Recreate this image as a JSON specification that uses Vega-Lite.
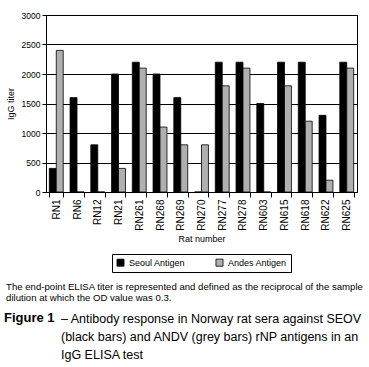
{
  "$schema": "https://vega.github.io/schema/vega-lite/v6.json",
  "padding": {"left": 4, "top": 10, "right": 2, "bottom": 2},
  "background": "white",
  "config": {
    "font": "Liberation Sans",
    "view": {"stroke": null},
    "legend": {"layout": {"bottom": {"anchor": "middle"}}}
  },
  "resolve": {"legend": {"fill": "independent"}, "scale": {"fill": "independent"}},
  "spacing": 9,
  "vconcat": [
    {
      "width": 311,
      "height": 177,
      "view": {"stroke": "black", "strokeWidth": 1},
      "title": {
        "text": ["The end-point ELISA titer is represented and defined as the reciprocal of the sample", "dilution at which the OD value was 0.3."],
        "orient": "bottom",
        "anchor": "start",
        "frame": "bounds",
        "fontSize": 9.6,
        "fontWeight": "normal",
        "lineHeight": 11,
        "offset": 9,
        "color": "black"
      },
      "data": {
        "values": [
          {"rat": "RN1", "antigen": "Seoul Antigen", "titer": 400},
          {"rat": "RN1", "antigen": "Andes Antigen", "titer": 2400},
          {"rat": "RN6", "antigen": "Seoul Antigen", "titer": 1600},
          {"rat": "RN6", "antigen": "Andes Antigen", "titer": 0},
          {"rat": "RN12", "antigen": "Seoul Antigen", "titer": 800},
          {"rat": "RN12", "antigen": "Andes Antigen", "titer": 0},
          {"rat": "RN21", "antigen": "Seoul Antigen", "titer": 2000},
          {"rat": "RN21", "antigen": "Andes Antigen", "titer": 400},
          {"rat": "RN261", "antigen": "Seoul Antigen", "titer": 2200},
          {"rat": "RN261", "antigen": "Andes Antigen", "titer": 2100},
          {"rat": "RN268", "antigen": "Seoul Antigen", "titer": 2000},
          {"rat": "RN268", "antigen": "Andes Antigen", "titer": 1100},
          {"rat": "RN269", "antigen": "Seoul Antigen", "titer": 1600},
          {"rat": "RN269", "antigen": "Andes Antigen", "titer": 800},
          {"rat": "RN270", "antigen": "Seoul Antigen", "titer": 0},
          {"rat": "RN270", "antigen": "Andes Antigen", "titer": 800},
          {"rat": "RN277", "antigen": "Seoul Antigen", "titer": 2200},
          {"rat": "RN277", "antigen": "Andes Antigen", "titer": 1800},
          {"rat": "RN278", "antigen": "Seoul Antigen", "titer": 2200},
          {"rat": "RN278", "antigen": "Andes Antigen", "titer": 2100},
          {"rat": "RN603", "antigen": "Seoul Antigen", "titer": 1500},
          {"rat": "RN603", "antigen": "Andes Antigen", "titer": 0},
          {"rat": "RN615", "antigen": "Seoul Antigen", "titer": 2200},
          {"rat": "RN615", "antigen": "Andes Antigen", "titer": 1800},
          {"rat": "RN618", "antigen": "Seoul Antigen", "titer": 2200},
          {"rat": "RN618", "antigen": "Andes Antigen", "titer": 1200},
          {"rat": "RN622", "antigen": "Seoul Antigen", "titer": 1300},
          {"rat": "RN622", "antigen": "Andes Antigen", "titer": 200},
          {"rat": "RN625", "antigen": "Seoul Antigen", "titer": 2200},
          {"rat": "RN625", "antigen": "Andes Antigen", "titer": 2100}
        ]
      },
      "mark": {"type": "bar", "stroke": "black", "strokeWidth": 0.8},
      "encoding": {
        "x": {
          "field": "rat",
          "type": "nominal",
          "sort": null,
          "scale": {"paddingInner": 0.33, "paddingOuter": 0.16},
          "axis": {
            "title": "Rat number",
            "titleFontSize": 9,
            "titleFontWeight": "normal",
            "titlePadding": 4,
            "labelAngle": -90,
            "labelFontSize": 10,
            "labelColor": "black",
            "labelPadding": 2,
            "tickBand": "extent",
            "tickSize": 5,
            "tickColor": "black",
            "domainColor": "black"
          }
        },
        "xOffset": {"field": "antigen", "type": "nominal", "sort": ["Seoul Antigen", "Andes Antigen"]},
        "y": {
          "field": "titer",
          "type": "quantitative",
          "scale": {"domain": [0, 3000]},
          "axis": {
            "title": "IgG titer",
            "titleFontSize": 9,
            "titleFontWeight": "normal",
            "titlePadding": 6,
            "values": [0, 500, 1000, 1500, 2000, 2500, 3000],
            "format": "d",
            "labelFontSize": 8.5,
            "labelColor": "black",
            "gridColor": "black",
            "gridOpacity": 1,
            "tickColor": "black",
            "tickSize": 4,
            "domainColor": "black"
          }
        },
        "fill": {
          "field": "antigen",
          "type": "nominal",
          "sort": ["Seoul Antigen", "Andes Antigen"],
          "scale": {"domain": ["Seoul Antigen", "Andes Antigen"], "range": ["black", "#b0b0b0"]},
          "legend": {
            "title": null,
            "orient": "bottom",
            "direction": "horizontal",
            "strokeColor": "black",
            "padding": 4,
            "offset": 10,
            "labelFontSize": 9,
            "symbolType": "square",
            "symbolSize": 50,
            "symbolStrokeColor": "black",
            "symbolStrokeWidth": 0.8,
            "columnPadding": 28
          }
        }
      }
    },
    {
      "spacing": 6,
      "hconcat": [
        {
          "data": {"values": []},
          "mark": "point",
          "width": 1,
          "height": 1,
          "title": {
            "text": ["Figure 1", " ", " "],
            "anchor": "start",
            "dx": -42,
            "fontSize": 13,
            "fontWeight": "bold",
            "lineHeight": 18,
            "color": "black",
            "offset": 0
          }
        },
        {
          "data": {"values": []},
          "mark": "point",
          "width": 1,
          "height": 1,
          "title": {
            "text": ["\u2013 Antibody response in Norway rat sera against SEOV", "\u00a0\u00a0(black bars) and ANDV (grey bars) rNP antigens in an", "\u00a0\u00a0IgG ELISA test"],
            "anchor": "start",
            "dx": -42,
            "fontSize": 12.5,
            "fontWeight": "normal",
            "lineHeight": 18,
            "color": "black",
            "offset": 0
          }
        }
      ]
    }
  ]
}
